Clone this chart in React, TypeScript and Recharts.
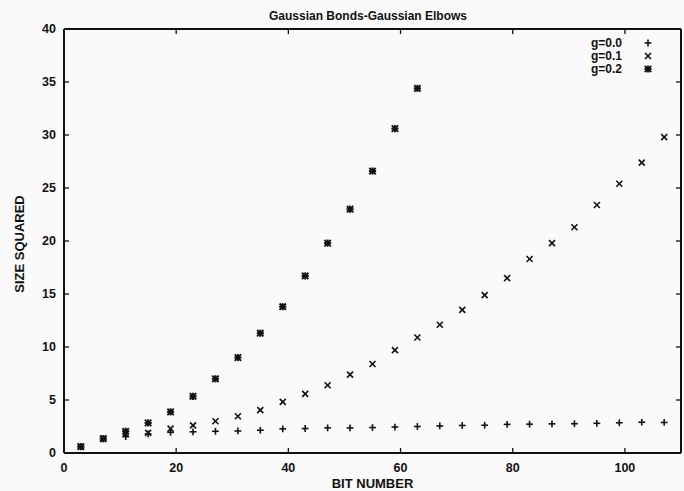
import React from 'react';
import { ScatterChart, Scatter, XAxis, YAxis, ReferenceLine } from 'recharts';

const bitNumbers = [3, 7, 11, 15, 19, 23, 27, 31, 35, 39, 43, 47, 51, 55, 59, 63, 67, 71, 75, 79, 83, 87, 91, 95, 99, 103, 107];
const g00 = [0.6, 1.35, 1.55, 1.8, 1.95, 2.0, 2.05, 2.08, 2.15, 2.28, 2.31, 2.37, 2.37, 2.4, 2.45, 2.5, 2.55, 2.6, 2.62, 2.7, 2.72, 2.75, 2.76, 2.8, 2.85, 2.9, 2.88];
const g01 = [0.6, 1.35, 1.8, 1.9, 2.3, 2.6, 3.0, 3.47, 4.04, 4.82, 5.58, 6.39, 7.4, 8.4, 9.7, 10.9, 12.1, 13.5, 14.9, 16.5, 18.3, 19.8, 21.3, 23.4, 25.4, 27.4, 29.8];
const g02 = [0.6, 1.35, 2.05, 2.84, 3.88, 5.35, 7.0, 9.0, 11.3, 13.8, 16.7, 19.8, 23.0, 26.6, 30.6, 34.4];
const seriesLabels = ['g=0.0', 'g=0.1', 'g=0.2'];
const xTicks = [0, 20, 40, 60, 80, 100];
const yTicks = [0, 5, 10, 15, 20, 25, 30, 35, 40];
const titleText = 'Gaussian Bonds-Gaussian Elbows';
const xLabel = 'BIT NUMBER';
const yLabel = 'SIZE SQUARED';

const W = 684;
const H = 491;
const PL = 64;
const PR = 681;
const PT = 29;
const PB = 453;
const FONT = '"Liberation Sans", Arial, Helvetica, sans-serif';
const INK = '#111';

const toPoints = (ys: number[]) => ys.map((y, i) => ({ x: bitNumbers[i], y }));

const Marker = ({ kind, cx, cy }: { kind: number; cx: number; cy: number }) => {
  const s = kind === 2 ? 3.6 : 3.4;
  const d = kind === 2 ? 3.2 : 3;
  const sw = kind === 2 ? 1.9 : 1.6;
  const parts: React.ReactNode[] = [];
  if (kind === 0 || kind === 2) {
    parts.push(<line key="h" x1={cx - s} x2={cx + s} y1={cy} y2={cy} stroke={INK} strokeWidth={sw} />);
    parts.push(<line key="v" x1={cx} x2={cx} y1={cy - s} y2={cy + s} stroke={INK} strokeWidth={sw} />);
  }
  if (kind === 1 || kind === 2) {
    parts.push(<line key="a" x1={cx - d} x2={cx + d} y1={cy - d} y2={cy + d} stroke={INK} strokeWidth={sw} />);
    parts.push(<line key="b" x1={cx - d} x2={cx + d} y1={cy + d} y2={cy - d} stroke={INK} strokeWidth={sw} />);
  }
  if (kind === 2) {
    parts.push(<rect key="r" x={cx - 2.2} y={cy - 2.2} width={4.4} height={4.4} fill={INK} />);
  }
  return <g>{parts}</g>;
};

const shapeFor = (kind: number) => (props: any) => <Marker kind={kind} cx={props.cx} cy={props.cy} />;

const XTick = (props: any) => {
  const { x, payload } = props;
  return (
    <g>
      <line x1={x} x2={x} y1={PB} y2={PB - 5} stroke={INK} strokeWidth={1.3} />
      <line x1={x} x2={x} y1={PT} y2={PT + 5} stroke={INK} strokeWidth={1.3} />
      <text x={x} y={468} textAnchor="middle" dominantBaseline="central" fontFamily={FONT} fontSize={12.5} fontWeight="bold" fill={INK}>
        {payload.value}
      </text>
    </g>
  );
};

const YTick = (props: any) => {
  const { y, payload } = props;
  return (
    <g>
      <line x1={PL} x2={PL + 5} y1={y} y2={y} stroke={INK} strokeWidth={1.3} />
      <line x1={PR} x2={PR - 5} y1={y} y2={y} stroke={INK} strokeWidth={1.3} />
      <text x={56} y={y} textAnchor="end" dominantBaseline="central" fontFamily={FONT} fontSize={12.5} fontWeight="bold" fill={INK}>
        {payload.value}
      </text>
    </g>
  );
};

export default function App() {
  const legendY = [43, 56, 69];
  return (
    <div style={{ position: 'fixed', left: 0, top: 0, width: W, height: H, background: '#fafafa' }}>
      <ScatterChart width={W} height={H} margin={{ top: PT, right: W - PR, bottom: 0, left: 0 }}>
        <XAxis
          type="number"
          dataKey="x"
          domain={[0, 110]}
          ticks={xTicks}
          tickSize={0}
          tickMargin={15}
          tick={<XTick />}
          height={H - PB}
          axisLine={{ stroke: INK, strokeWidth: 2 }}
          tickLine={false}
          allowDataOverflow
        />
        <YAxis
          type="number"
          dataKey="y"
          domain={[0, 40]}
          ticks={yTicks}
          tickSize={0}
          tickMargin={8}
          tick={<YTick />}
          width={PL}
          axisLine={{ stroke: INK, strokeWidth: 2 }}
          tickLine={false}
          allowDataOverflow
        />
        <ReferenceLine y={40} stroke={INK} strokeWidth={2} />
        <ReferenceLine x={110} stroke={INK} strokeWidth={2} />
        <Scatter name={seriesLabels[0]} data={toPoints(g00)} shape={shapeFor(0)} isAnimationActive={false} />
        <Scatter name={seriesLabels[1]} data={toPoints(g01)} shape={shapeFor(1)} isAnimationActive={false} />
        <Scatter name={seriesLabels[2]} data={toPoints(g02)} shape={shapeFor(2)} isAnimationActive={false} />
      </ScatterChart>
      <svg width={W} height={H} style={{ position: 'absolute', left: 0, top: 0, pointerEvents: 'none' }}>
        <text x={368} y={16} textAnchor="middle" dominantBaseline="central" fontFamily={FONT} fontSize={12} fontWeight="bold" fill={INK}>
          {titleText}
        </text>
        <text x={(PL + PR) / 2} y={483} textAnchor="middle" dominantBaseline="central" fontFamily={FONT} fontSize={13} fontWeight="bold" fill={INK}>
          {xLabel}
        </text>
        <text
          x={19}
          y={244}
          textAnchor="middle"
          dominantBaseline="central"
          fontFamily={FONT}
          fontSize={13}
          fontWeight="bold"
          fill={INK}
          transform={`rotate(-90 19 244)`}
        >
          {yLabel}
        </text>
        {seriesLabels.map((s, i) => (
          <g key={s}>
            <text x={622} y={legendY[i]} textAnchor="end" dominantBaseline="central" fontFamily={FONT} fontSize={12} fontWeight="bold" fill={INK}>
              {s}
            </text>
            <Marker kind={i} cx={648} cy={legendY[i]} />
          </g>
        ))}
      </svg>
    </div>
  );
}
